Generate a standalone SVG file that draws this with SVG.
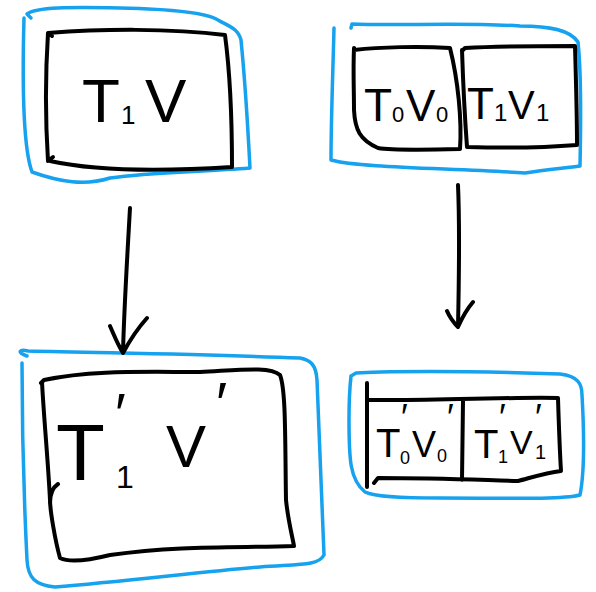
<svg xmlns="http://www.w3.org/2000/svg" width="596" height="592" viewBox="0 0 596 592">
<style>
.blue{fill:none;stroke:#16a2ee;stroke-width:3.5;stroke-linecap:round;stroke-linejoin:round}
.blk{fill:none;stroke:#000;stroke-width:4;stroke-linecap:round;stroke-linejoin:round}
.lbl{font-family:"Liberation Sans","DejaVu Sans",sans-serif;fill:#000}
</style>
<rect width="596" height="592" fill="#fff"/>
<g id="node-tv">
<path class="blue" d="M31,18 L27,14 C36,7 70,7 120,8 C170,9 205,12 218,20 C228,26 238,28 241,40 C245,80 248,130 250,168 C200,172 150,172 110,178 C85,186 60,182 32,172 C24,150 22,90 24,18"/>
<path class="blk" d="M52,36 L48,33 C100,29 170,28 225,35 C231,80 232,130 232,167 C170,171 100,172 50,161 M48,33 C45,80 46,130 48,161 L53,157"/>
<text class="lbl" font-size="62"><tspan x="82" y="122">T</tspan><tspan x="121" y="124" font-size="26">1</tspan><tspan x="145" y="122">V</tspan></text>
</g>
<g id="node-t0v0-t1v1">
<path class="blue" d="M334,28 C333,70 331,120 331,160 C360,168 450,168 525,173 C545,170 565,168 580,166 C581,120 581,70 578,42 C570,30 550,26 520,26 C460,22 400,26 352,24 L351,28"/>
<path class="blk" d="M354,50 C380,47 420,46 450,48 C458,80 462,120 460,149 C420,150 390,150 378,148 C360,140 355,130 354,110 C354,90 353,70 354,48"/>
<path class="blk" d="M462,51 L465,48 C500,46 540,46 575,46 C576,80 577,120 577,145 C540,148 500,148 467,147 C465,120 463,80 462,50"/>
<text class="lbl" font-size="46"><tspan x="364" y="121">T</tspan><tspan x="392" y="122" font-size="22">0</tspan><tspan x="406" y="121" font-size="44">V</tspan><tspan x="436" y="122" font-size="22">0</tspan></text>
<text class="lbl" font-size="44"><tspan x="467" y="119">T</tspan><tspan x="494" y="121" font-size="24">1</tspan><tspan x="508" y="119" font-size="40">V</tspan><tspan x="536" y="121" font-size="24">1</tspan></text>
</g>
<g id="node-t1v-prime">
<path class="blue" d="M27,356 C16,352 20,349 28,351 C100,353 200,354 300,358 C310,360 316,364 317,380 C320,450 323,520 324,555 C318,566 300,564 260,567 C200,572 120,582 55,587 C35,585 28,578 27,560 C24,500 22,420 22,363"/>
<path class="blk" d="M41,383 L44,380 C90,370 140,372 200,372 C240,370 270,366 280,375 C286,390 285,440 286,500 C288,520 292,535 294,546 C240,548 180,545 110,555 C90,560 70,563 60,558 C55,540 50,510 50,500 C48,460 44,420 42,382 M58,484 C52,488 50,495 50,503"/>
<text class="lbl" font-size="80"><tspan x="56" y="480">T</tspan><tspan x="115" y="434" font-size="58">′</tspan><tspan x="116" y="488" font-size="32">1</tspan><tspan x="166" y="467" font-size="60">V</tspan><tspan x="216" y="424" font-size="60">′</tspan></text>
</g>
<g id="node-t0v0-t1v1-prime">
<path class="blue" d="M351,376 L356,373 C420,370 500,372 560,374 C578,376 582,384 582,395 C584,430 585,470 580,495 C560,500 500,498 440,498 C400,498 375,497 365,492 C350,480 349,460 349,420 C349,400 350,385 351,376"/>
<path class="blk" d="M367,383 L367,487 M367,400 C420,401 500,397 558,398 C559,430 560,455 561,471 C545,473 530,478 518,481 C480,480 440,478 378,478 L374,483 M463,401 L462,480"/>
<text class="lbl" font-size="40"><tspan x="376" y="457">T</tspan><tspan x="401" y="430" font-size="36">′</tspan><tspan x="400" y="464" font-size="18">0</tspan><tspan x="412" y="457" font-size="36">V</tspan><tspan x="437" y="462" font-size="18">0</tspan><tspan x="447" y="430" font-size="36">′</tspan></text>
<text class="lbl" font-size="40"><tspan x="474" y="458">T</tspan><tspan x="499" y="430" font-size="36">′</tspan><tspan x="498" y="463" font-size="18">1</tspan><tspan x="510" y="454" font-size="34">V</tspan><tspan x="535" y="430" font-size="36">′</tspan><tspan x="535" y="459" font-size="20">1</tspan></text>
</g>
<g id="connectors">
<path class="blk" d="M130,208 C127,260 124,310 123,353 M110,326 C114,335 118,345 123,353 C130,340 138,328 147,318"/>
<path class="blk" d="M458,185 C460,230 459,280 458,327 M447,311 C450,318 453,322 458,327 C462,318 467,309 473,302"/>
</g>
</svg>
